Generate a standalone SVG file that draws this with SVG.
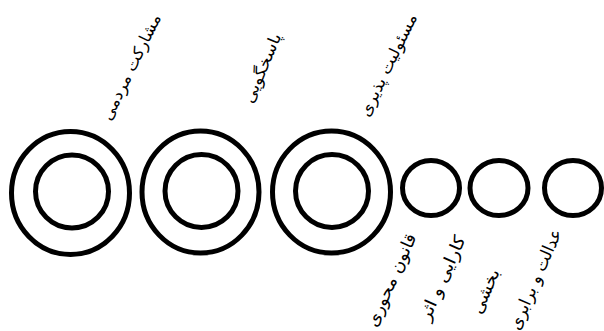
<svg xmlns="http://www.w3.org/2000/svg" width="604" height="331" viewBox="0 0 604 331">
<style>
.ring{fill:none;stroke:#000;stroke-width:5}
.lbl{font-family:"DejaVu Sans",sans-serif;font-size:16px;fill:#000;text-anchor:middle;dominant-baseline:central}
</style>
<rect width="604" height="331" fill="#fff"/>
<g id="node-mosharekat">
<ellipse class="ring" cx="70.5" cy="193" rx="59" ry="61.5"/>
<ellipse class="ring" cx="72" cy="191.5" rx="36.5" ry="36.5"/>
<text class="lbl" transform="translate(131,67) rotate(-64)" textLength="116" lengthAdjust="spacingAndGlyphs">مشارکت مردمی</text>
</g>
<g id="node-pasokhgooyi">
<ellipse class="ring" cx="200.5" cy="192" rx="58.5" ry="61"/>
<ellipse class="ring" cx="201.5" cy="191" rx="36.5" ry="36.5"/>
<text class="lbl" transform="translate(262,68) rotate(-67)" textLength="74" lengthAdjust="spacingAndGlyphs">پاسخگویی</text>
</g>
<g id="node-masooliat">
<ellipse class="ring" cx="331.5" cy="192" rx="59" ry="61"/>
<ellipse class="ring" cx="332" cy="191" rx="36.5" ry="36.5"/>
<text class="lbl" transform="translate(388,65) rotate(-64)" textLength="112" lengthAdjust="spacingAndGlyphs">مسئولیت پذیری</text>
</g>
<g id="node-ghanoon">
<ellipse class="ring" cx="431" cy="188" rx="28.5" ry="27.5"/>
<text class="lbl" style="font-size:17px" transform="translate(391,280) rotate(-66)" textLength="100" lengthAdjust="spacingAndGlyphs">قانون محوری</text>
</g>
<g id="node-karayi">
<ellipse class="ring" cx="499" cy="188" rx="29" ry="27.5"/>
<text class="lbl" style="font-size:17px" transform="translate(442,278) rotate(-66)" textLength="91" lengthAdjust="spacingAndGlyphs">کارایی و اثر</text>
<text class="lbl" style="font-size:17px" transform="translate(485,291) rotate(-66)" textLength="47" lengthAdjust="spacingAndGlyphs">بخشی</text>
</g>
<g id="node-edalat">
<ellipse class="ring" cx="573" cy="188" rx="28.5" ry="27.5"/>
<text class="lbl" style="font-size:17px" transform="translate(535,279) rotate(-66.5)" textLength="108" lengthAdjust="spacingAndGlyphs">عدالت و برابری</text>
</g>
<g id="connectors"/>
</svg>
